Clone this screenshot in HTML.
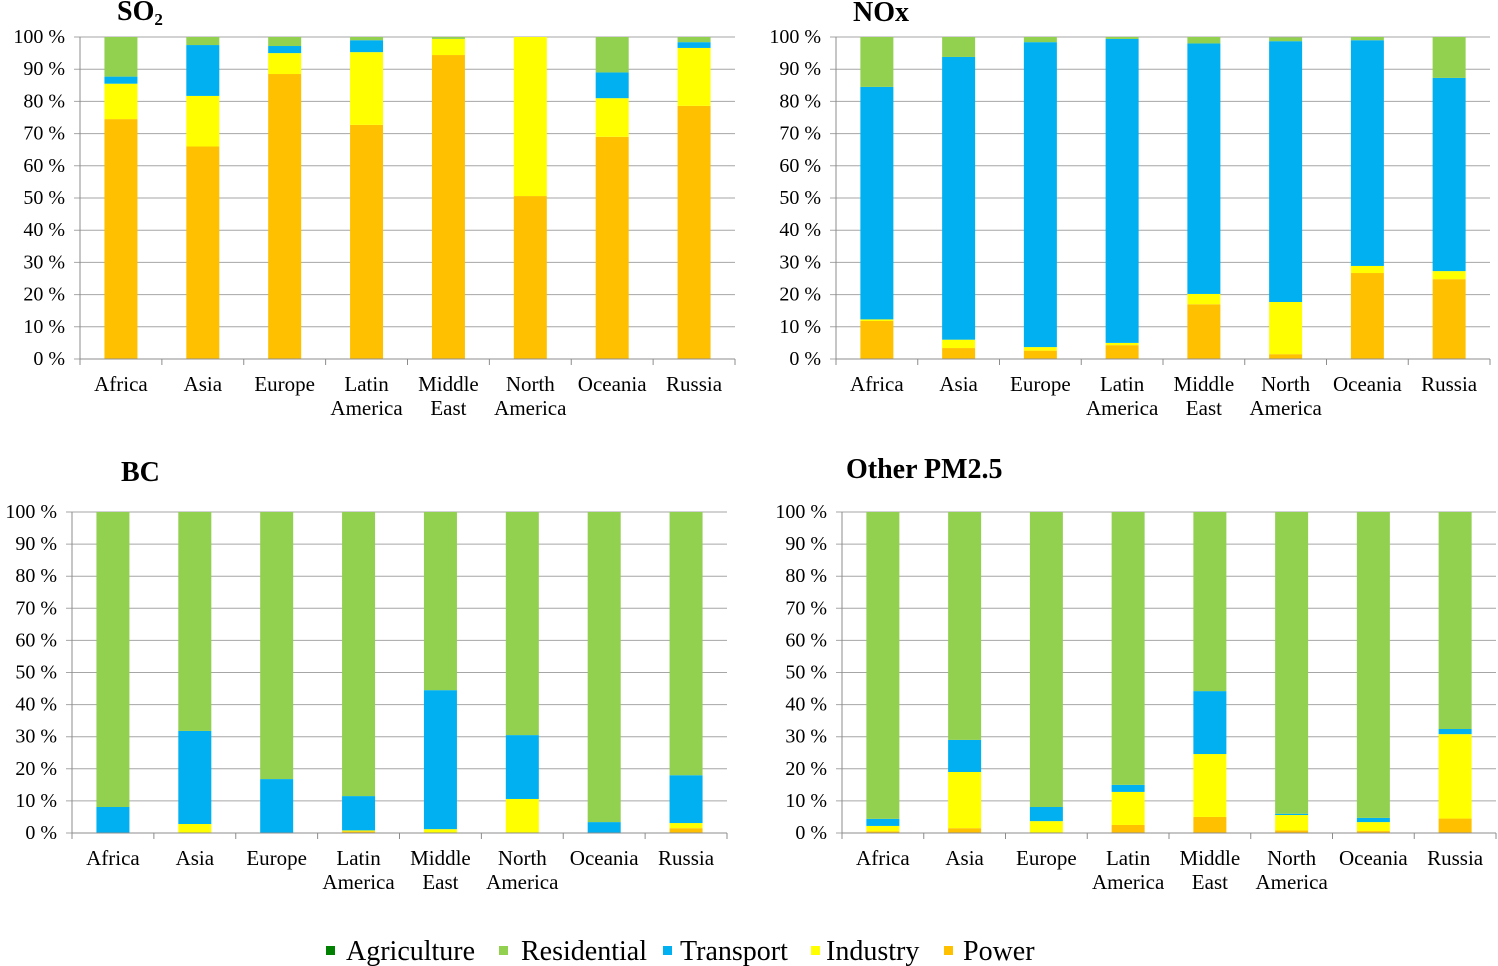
<!DOCTYPE html>
<html><head><meta charset="utf-8">
<style>
html,body{margin:0;padding:0;background:#fff;}
svg{display:block;font-family:"Liberation Serif",serif;}
</style></head>
<body>
<svg id="chart" width="1498" height="966" viewBox="0 0 1498 966" xmlns="http://www.w3.org/2000/svg"></svg>
<script>
const categories = ["Africa","Asia","Europe","Latin\nAmerica","Middle\nEast","North\nAmerica","Oceania","Russia"];
const sectors = ["Power","Industry","Transport","Residential","Agriculture"];
const yTicks = [0,10,20,30,40,50,60,70,80,90,100];
const so2Power       = [74.5,66,88.5,72.7,94.4,50.6,69,78.6];
const so2Industry    = [11,15.7,6.5,22.6,5,49.4,12,18];
const so2Transport   = [2.2,15.8,2.2,3.7,0,0,8,1.8];
const so2Residential = [12.3,2.5,2.8,1,0.6,0,11,1.6];
const so2Agriculture = [0,0,0,0,0,0,0,0];
const noxPower       = [11.8,3.4,2.6,4.3,17,1.5,26.7,24.8];
const noxIndustry    = [0.5,2.6,1.1,0.7,3.2,16.2,2.2,2.5];
const noxTransport   = [72.2,87.8,94.7,94.4,77.8,81,70.1,60];
const noxResidential = [15.5,6.2,1.6,0.6,2,1.2,1,12.7];
const noxAgriculture = [0,0,0,0,0,0,0,0];
const bcPower        = [0,0,0,0.5,0,0,0,1.5];
const bcIndustry     = [0,2.8,0,0.3,1.2,10.6,0,1.6];
const bcTransport    = [8.1,29,16.8,10.7,43.3,19.9,3.4,14.9];
const bcResidential  = [91.9,68.2,83.2,88.5,55.5,69.5,96.6,82];
const bcAgriculture  = [0,0,0,0,0,0,0,0];
const pmPower        = [0.5,1.5,0,2.5,5,0.8,0.6,4.5];
const pmIndustry     = [1.7,17.5,3.7,10.3,19.6,4.8,2.8,26.3];
const pmTransport    = [2.2,10,4.4,2.2,19.6,0.4,1.3,1.6];
const pmResidential  = [95.6,71,91.9,85,55.8,94,95.3,67.6];
const pmAgriculture  = [0,0,0,0,0,0,0,0];

const colors = ["#FFC000","#FFFF00","#00B0F0","#92D050","#008000"];
const NS = "http://www.w3.org/2000/svg";
const svg = document.getElementById("chart");
function mk(tag, attrs, parent){const e=document.createElementNS(NS,tag);for(const k in attrs)e.setAttribute(k,attrs[k]);(parent||svg).appendChild(e);return e;}

const panels = [
 {key:"so2",title:"SO",sub:"2",tx:117,ty:20,left:80,right:735,top:37,bottom:359,series:[so2Power,so2Industry,so2Transport,so2Residential,so2Agriculture]},
 {key:"nox",title:"NOx",tx:853,ty:21,left:836,right:1490,top:37,bottom:359,series:[noxPower,noxIndustry,noxTransport,noxResidential,noxAgriculture]},
 {key:"bc",title:"BC",tx:121,ty:481,left:72,right:727,top:512,bottom:833,series:[bcPower,bcIndustry,bcTransport,bcResidential,bcAgriculture]},
 {key:"pm",title:"Other PM2.5",tx:846,ty:478,left:842,right:1496,top:512,bottom:833,series:[pmPower,pmIndustry,pmTransport,pmResidential,pmAgriculture]}
];

panels.forEach(p=>{
  const g = mk("g",{});
  
  
  const y = v => p.bottom - v/100*(p.bottom-p.top);
  const bw = (p.right-p.left)/categories.length;
  const x = i => p.left + bw*i + bw/2;
  const t = mk("text",{x:p.tx,y:p.ty,"font-size":28,"font-weight":"bold",fill:"#000"},g);
  
  
  t.textContent = p.title;
  if(p.sub){const s=mk("tspan",{"font-size":17,dy:5},t);s.textContent=p.sub;}
  yTicks.forEach(v=>{
    const l = mk("line",{x1:p.left-6,x2:p.right,y1:y(v),y2:y(v),stroke:"#a6a6a6","stroke-width":1},g);
    
    
    const lt = mk("text",{x:p.left-15,y:y(v)+6,"font-size":20,"text-anchor":"end",fill:"#000"},g);
    
    
    lt.textContent = v+" %";
  });
  categories.forEach((c,i)=>{
    let cum=0;
    p.series.forEach((ser,si)=>{
      const v = ser[i];
      if(v>0){
        const r = mk("rect",{x:x(i)-16.5,width:33,y:y(cum+v),height:y(cum)-y(cum+v),fill:colors[si]},g);
        
        
      }
      cum+=v;
    });
  });
  const ya = mk("line",{x1:p.left,x2:p.left,y1:p.top,y2:p.bottom,stroke:"#8c8c8c","stroke-width":1},g);
  
  
  const xa = mk("line",{x1:p.left,x2:p.right,y1:p.bottom,y2:p.bottom,stroke:"#8c8c8c","stroke-width":1},g);
  
  
  for(let i=0;i<=categories.length;i++){
    mk("line",{x1:p.left+bw*i,x2:p.left+bw*i,y1:p.bottom,y2:p.bottom+6,stroke:"#8c8c8c","stroke-width":1},g);
  }
  categories.forEach((c,i)=>{
    const ct = mk("text",{x:x(i),y:p.bottom+32,"font-size":21,"text-anchor":"middle",fill:"#000"},g);
    
    
    c.split("\n").forEach((ln,k)=>{const ts=mk("tspan",{x:x(i),dy:k?24:0},ct);ts.textContent=ln;});
  });
});

const legendX = [326,499,663,811,944];
const legendTextX = [346,521,680,826,963];
const legendOrder = [4,3,2,1,0];
legendOrder.forEach((si,k)=>{
  const lg = mk("g",{});
  
  
  mk("rect",{x:legendX[k],y:946,width:9,height:9,fill:colors[si]},lg);
  const tx = mk("text",{x:legendTextX[k],y:960,"font-size":28,fill:"#000"},lg);
  tx.textContent = sectors[si];
});
</script>
</body></html>
